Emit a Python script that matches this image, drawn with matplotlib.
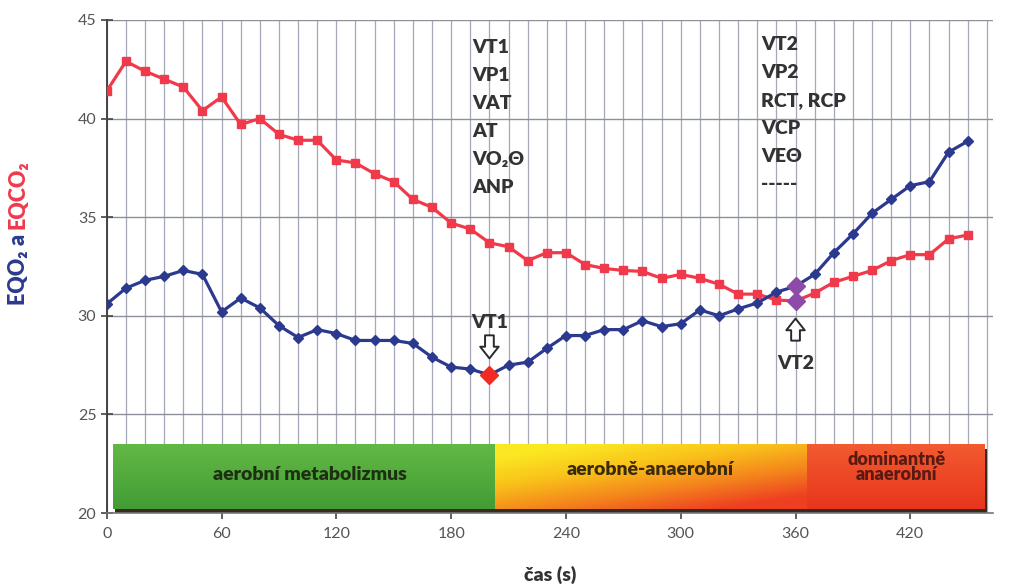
import matplotlib.pyplot as plt
import numpy as np
from matplotlib.colors import LinearSegmentedColormap
from matplotlib.patches import Rectangle

plt.rcParams['font.family'] = ['Lato', 'DejaVu Sans']

# time (s), one sample every 10 s
cas = [0, 10, 20, 30, 40, 50, 60, 70, 80, 90, 100, 110, 120, 130, 140, 150,
       160, 170, 180, 190, 200, 210, 220, 230, 240, 250, 260, 270, 280, 290,
       300, 310, 320, 330, 340, 350, 360, 370, 380, 390, 400, 410, 420, 430,
       440, 450]
eqo2 = [30.6, 31.4, 31.8, 32.0, 32.3, 32.1, 30.2, 30.9, 30.4, 29.5, 28.9, 29.3,
        29.1, 28.75, 28.75, 28.75, 28.6, 27.9, 27.4, 27.3, 27.0, 27.5, 27.65,
        28.35, 29.0, 29.0, 29.3, 29.3, 29.75, 29.45, 29.6, 30.3, 30.0, 30.35,
        30.65, 31.2, 31.5, 32.1, 33.2, 34.15, 35.2, 35.9, 36.6, 36.8, 38.3, 38.85]
eqco2 = [41.4, 42.9, 42.4, 42.0, 41.6, 40.4, 41.1, 39.7, 40.0, 39.2, 38.9, 38.9,
         37.9, 37.75, 37.2, 36.8, 35.9, 35.5, 34.7, 34.4, 33.7, 33.5, 32.8, 33.2,
         33.2, 32.6, 32.4, 32.3, 32.25, 31.9, 32.1, 31.9, 31.6, 31.1, 31.1, 30.8,
         30.75, 31.15, 31.7, 32.0, 32.3, 32.8, 33.1, 33.1, 33.9, 34.1]

vt1_idx = 20
vt2_idx = 36

vt1_text = ['VT1', 'VP1', 'VAT', 'AT', 'VO₂Θ', 'ANP']
vt2_text = ['VT2', 'VP2', 'RCT, RCP', 'VCP', 'VEΘ', '-----']

# zones: (start, end, label)
zones = [(3, 203, 'aerobní metabolizmus'),
         (203, 366, 'aerobně-anaerobní'),
         (366, 459, 'dominantně\nanaerobní')]

blue = '#2b3a8f'
red = '#f03a4c'
purple = '#8e4aa8'
txt = '#333333'
W = 'heavy'

fig = plt.figure(figsize=(10.17, 5.87), dpi=100)
ax = fig.add_axes([0.105, 0.126, 0.871, 0.840])
ax.set_xlim(0, 463)
ax.set_ylim(20, 45)

ax.set_xticks(range(0, 421, 60))
ax.set_xticks(range(10, 461, 10), minor=True)
ax.set_yticks(range(20, 46, 5))
ax.grid(True, which='both', axis='x', color='#a3a7b8', lw=0.9, zorder=0)
ax.grid(True, which='major', axis='y', color='#8e9099', lw=1.0, zorder=0)
ax.tick_params(axis='both', which='major', direction='inout', length=8,
               width=1.2, color='#444444', labelcolor='#555555', labelsize=11.5)
ax.tick_params(axis='x', which='minor', length=0)
ax.tick_params(axis='x', pad=6)
for s in ['top', 'right']:
    ax.spines[s].set_visible(False)
ax.spines['left'].set_color('#444444')
ax.spines['left'].set_linewidth(1.4)
ax.spines['bottom'].set_color('#777777')
ax.spines['bottom'].set_linewidth(1.2)

# zone bars with dark shadow
band_lo, band_hi = 20.2, 23.45
def shade(c0, c1, n=64):
    return LinearSegmentedColormap.from_list('z', [c0, c1], N=n)

gx = np.linspace(0, 1, 200)
gy = np.linspace(0, 1, 50)
GX, GY = np.meshgrid(gx, gy)
fills = [
    (shade('#62b845', '#3f9a33'), GY * 0.9),
    (LinearSegmentedColormap.from_list('yo', ['#fbe822', '#f9c21a', '#f4861c', '#ee3f22']),
     np.clip(0.55 * GX + 0.75 * GY - 0.15, 0, 1)),
    (shade('#f25a30', '#e8361e'), GY),
]
for (x0, x1, label), (cmap, grad) in zip(zones, fills):
    ax.add_patch(Rectangle((x0 + 1.2, band_lo - 0.2), x1 - x0, band_hi - band_lo,
                           color='#3b2a20', zorder=2, lw=0))
    ax.imshow(grad, cmap=cmap, vmin=0, vmax=1, origin='upper', aspect='auto',
              extent=(x0, x1, band_lo, band_hi), zorder=3, interpolation='bilinear')

ax.text(106, 21.95, zones[0][2], ha='center', va='center', fontsize=14,
        fontweight=W, color='#1e3012', zorder=5)
ax.text(284, 22.2, zones[1][2], ha='center', va='center', fontsize=14,
        fontweight=W, color='#3a2a08', zorder=5)
ax.text(413, 22.35, zones[2][2], ha='center', va='center', fontsize=13,
        fontweight=W, color='#5a1a12', zorder=5, linespacing=0.85)

# curves
ax.plot(cas, eqco2, color=red, lw=2.3, marker='s', ms=5.5, zorder=6)
ax.plot(cas, eqo2, color=blue, lw=2.3, marker='D', ms=5.5, zorder=6)

# threshold markers
ax.plot(cas[vt1_idx], eqo2[vt1_idx], marker='D', ms=9, color='#f22b22', zorder=7)
ax.plot([cas[vt2_idx]] * 2, [eqo2[vt2_idx], eqco2[vt2_idx]], ls='none',
        marker='D', ms=9, color=purple, zorder=7)

# hollow arrows
arrow = dict(arrowstyle='simple,head_width=0.95,head_length=0.6,tail_width=0.45',
             fc='white', ec='#2a2a2a', lw=1.4, mutation_scale=14)
ax.annotate('', xy=(cas[vt1_idx], eqo2[vt1_idx] + 0.7),
            xytext=(cas[vt1_idx], eqo2[vt1_idx] + 2.15), arrowprops=arrow, zorder=8)
ax.text(cas[vt1_idx], 29.65, 'VT1', ha='center', va='center', fontsize=14,
        fontweight=W, color=txt, zorder=8)
ax.annotate('', xy=(cas[vt2_idx], eqco2[vt2_idx] - 0.75),
            xytext=(cas[vt2_idx], eqco2[vt2_idx] - 2.15), arrowprops=arrow, zorder=8)
ax.text(cas[vt2_idx], 27.6, 'VT2', ha='center', va='center', fontsize=14,
        fontweight=W, color=txt, zorder=8)

# threshold synonyms
for i, s in enumerate(vt1_text):
    ax.text(191, 43.6 - i * 1.42, s, ha='left', va='center', fontsize=14,
            fontweight=W, color=txt, zorder=8)
for i, s in enumerate(vt2_text):
    ax.text(342, 43.75 - i * 1.42, s, ha='left', va='center', fontsize=14,
            fontweight=W, color=txt, zorder=8)

ax.set_xlabel('čas (s)', fontsize=14, fontweight=W, color=txt, labelpad=18)

# two-colour y label, pieces stacked bottom to top
renderer = fig.canvas.get_renderer()
y0 = 1 - 305 / 587
for piece, col in [('EQO₂ ', blue), ('a ', blue), ('EQCO₂', red)]:
    t = fig.text(0.018, y0, piece, rotation=90, ha='center', va='bottom',
                 fontsize=15.5, fontweight=W, color=col)
    y0 += t.get_window_extent(renderer).height / fig.bbox.height

fig.savefig('out.png', dpi=100)
